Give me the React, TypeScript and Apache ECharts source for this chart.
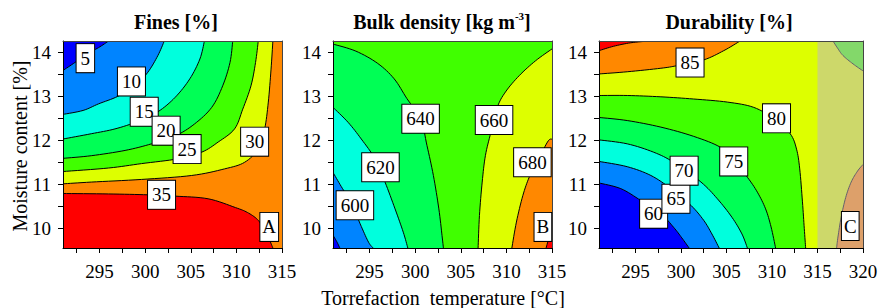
import React, { useEffect, useRef } from "react";
import * as echarts from "echarts";

const F = "Liberation Serif";
const X_MIN = 291;
const Y_MIN = 9.55;
const Y_MAX = 14.26;

const xTickVals = [292.5, 295, 297.5, 300, 302.5, 305, 307.5, 310, 312.5, 315, 317.5, 320];
const xLabelVals = [295, 300, 305, 310, 315, 320];
const yTickVals = [10, 10.5, 11, 11.5, 12, 12.5, 13, 13.5, 14];
const yLabelVals = [10, 11, 12, 13, 14];

// ---- Fines [%] contour lines (temperature, moisture)
const fines5 = [[291, 13.59], [292.3, 13.77], [293.5, 13.95], [294.9, 14.11], [296.0, 14.26]];
const fines10 = [[291, 12.59], [293.2, 12.68], [294.9, 12.83], [297, 13.0], [298.9, 13.24], [300.3, 13.55], [301.4, 13.93], [302.1, 14.26]];
const fines15 = [[291, 12.03], [294.1, 12.15], [296.7, 12.26], [299.2, 12.43], [301.4, 12.65], [303.3, 12.98], [304.9, 13.4], [306, 13.85], [306.5, 14.26]];
const fines20 = [[291, 11.59], [294.1, 11.65], [297.8, 11.77], [300.7, 11.92], [303.3, 12.1], [305.4, 12.37], [307.3, 12.75], [308.5, 13.24], [309.3, 13.77], [309.6, 14.26]];
const fines25 = [[291, 11.29], [296, 11.37], [299.6, 11.47], [303.6, 11.58], [306.2, 11.73], [308, 11.96], [309.8, 12.26], [310.7, 12.71], [311.6, 13.24], [312.1, 13.77], [312.4, 14.26]];
const fines30 = [[291, 11.01], [294.1, 11.05], [299.6, 11.11], [305.1, 11.2], [308.7, 11.35], [310.9, 11.5], [312.4, 11.81], [313.1, 12.26], [313.5, 12.87], [313.8, 13.62], [314.0, 14.26]];
const fines35 = [[291, 10.79], [296, 10.78], [300.3, 10.76], [303.3, 10.73], [306.9, 10.67], [309.9, 10.47], [311.2, 10.36], [312.3, 10.2], [313.1, 9.97], [313.6, 9.75], [314.0, 9.55]];
const fineLabels: [number, number, string][] = [
  [293.45, 13.87, "5"], [298.5, 13.34, "10"], [299.9, 12.65, "15"], [302.3, 12.22, "20"],
  [304.6, 11.8, "25"], [312.0, 11.97, "30"], [301.8, 10.76, "35"],
];

// ---- Bulk density [kg m-3]
const bulk580 = [[291, 9.84], [291.4, 9.7], [291.75, 9.55]];
const bulk600 = [[291, 11.27], [291.9, 10.95], [293, 10.57], [294.1, 10.04], [294.9, 9.68], [295.4, 9.55]];
const bulk620 = [[291, 12.75], [292.65, 12.41], [294.1, 12.03], [295.6, 11.58], [296.7, 11.05], [297.8, 10.44], [298.7, 9.91], [299.2, 9.55]];
const bulk640 = [[291, 14.19], [293.5, 14.03], [295.9, 13.75], [297.7, 13.4], [299.1, 12.95], [300.6, 12.49], [301.3, 11.88], [302, 11.2], [302.6, 10.44], [302.95, 9.83], [303.1, 9.55]];
const bulk660 = [[315, 14.08], [313.2, 13.81], [311.4, 13.47], [309.9, 13.1], [309, 12.75], [308.3, 12.18], [307.7, 11.65], [307.35, 11.05], [307.05, 10.29], [306.9, 9.55]];
const bulk680 = [[315, 12.03], [314.5, 11.96], [313.2, 11.43], [312.5, 11.16], [311.8, 10.74], [311.1, 10.14], [310.6, 9.55]];
const bulk700 = [[315, 9.95], [314.7, 9.8], [314.35, 9.55]];
const bulkLabels: [number, number, string][] = [
  [293.4, 10.52, "600"], [296.2, 11.39, "620"], [300.6, 12.49, "640"], [308.65, 12.46, "660"], [312.85, 11.5, "680"],
];

// ---- Durability [%]
const dur90 = [[291, 14.04], [292.6, 14.14], [294.5, 14.22], [296.5, 14.26]];
const dur85 = [[291, 13.51], [294.1, 13.56], [297.8, 13.64], [299.6, 13.7], [302.5, 13.83], [304.7, 14.04], [306.5, 14.26]];
const dur80 = [[291, 13.02], [294.1, 13.02], [297.8, 12.99], [301.4, 12.94], [305.1, 12.87], [308, 12.75], [310.2, 12.49], [312, 12.15], [312.7, 11.8], [313.05, 11.35], [313.35, 10.6], [313.55, 9.99], [313.7, 9.55]];
const dur75 = [[291, 12.52], [294.1, 12.45], [297.8, 12.3], [301.4, 12.09], [304.35, 11.84], [305.8, 11.54], [307.3, 11.16], [308.4, 10.82], [309.3, 10.44], [309.9, 10.03], [310.4, 9.55]];
const dur70 = [[291, 12.01], [294.1, 11.92], [297, 11.73], [299.2, 11.5], [302.2, 11.05], [304, 10.67], [305.6, 10.25], [306.7, 9.87], [307.3, 9.55]];
const dur65 = [[291, 11.52], [294.1, 11.4], [296.7, 11.2], [298.9, 10.9], [301.1, 10.52], [302.5, 10.18], [303.4, 9.87], [304.2, 9.55]];
const dur60 = [[291, 11.03], [293.4, 10.9], [295.6, 10.63], [297.8, 10.33], [299.2, 10.02], [300.1, 9.78], [300.9, 9.55]];
const dur80b = [[316.7, 14.26], [317.2, 14.1], [317.8, 13.93], [318.9, 13.74], [320, 13.58]];
const dur85b = [[320, 11.45], [319.4, 11.3], [318.7, 11.05], [318.1, 10.7], [317.6, 10.25], [317.25, 9.8], [317.1, 9.55]];
const durLabels: [number, number, string][] = [
  [297.0, 10.33, "60"], [299.45, 10.67, "65"], [300.35, 11.31, "70"], [305.8, 11.52, "75"], [310.5, 12.5, "80"], [301.0, 13.77, "85"],
];
const extrapolatedFrom = 315;

const panelTags: [number, number, string][] = [[313.6, 10.03, "A"], [314.0, 10.03, "B"], [318.6, 10.05, "C"]];
const panelMax = [315, 315, 320];
const panelTitles = ["Fines [%]", "{b|Bulk density [kg m}{s|-3}{b|]}", "Durability [%]"];

const C = {
  blue: "#0000ff", dodger: "#0084ff", cyan: "#00ffdd", green1: "#00ff55", green2: "#40ff00",
  yellow: "#ddff00", orange: "#ff8800", red: "#ff0000", shade: "rgba(191,181,200,0.53)",
};

type Layer = { line: number[][]; corner?: number[][]; fill?: string; stroke?: string; smooth?: boolean };

function rect(x0: number, x1: number): number[][] {
  return [[x0, Y_MIN], [x1, Y_MIN], [x1, Y_MAX], [x0, Y_MAX]];
}
const fillL = (line: number[][], corner: number[], fill: string): Layer => ({ line, corner: [corner], fill, smooth: true });
const lineL = (line: number[][]): Layer => ({ line, stroke: "#000", smooth: true });

const TL = [X_MIN, Y_MAX];
const BL = [X_MIN, Y_MIN];

const layers1: Layer[] = [
  { line: rect(X_MIN, 315), fill: C.orange },
  fillL(fines30, TL, C.yellow),
  fillL(fines25, TL, C.green2),
  fillL(fines20, TL, C.green1),
  fillL(fines15, TL, C.cyan),
  fillL(fines10, TL, C.dodger),
  fillL(fines5, TL, C.blue),
  fillL(fines35, BL, C.red),
  ...[fines5, fines10, fines15, fines20, fines25, fines30, fines35].map(lineL),
];
const layers2: Layer[] = [
  { line: rect(X_MIN, 315), fill: C.green2 },
  fillL(bulk640, BL, C.green1),
  fillL(bulk620, BL, C.cyan),
  fillL(bulk600, BL, C.dodger),
  fillL(bulk580, BL, C.blue),
  fillL(bulk660, [315, Y_MIN], C.yellow),
  fillL(bulk680, [315, Y_MIN], C.orange),
  fillL(bulk700, [315, Y_MIN], C.red),
  ...[bulk580, bulk600, bulk620, bulk640, bulk660, bulk680, bulk700].map(lineL),
];
const layers3: Layer[] = [
  { line: rect(X_MIN, 320), fill: C.yellow },
  fillL(dur85, TL, C.orange),
  fillL(dur90, TL, C.red),
  fillL(dur80, BL, C.green2),
  fillL(dur75, BL, C.green1),
  fillL(dur70, BL, C.cyan),
  fillL(dur65, BL, C.dodger),
  fillL(dur60, BL, C.blue),
  fillL(dur80b, [320, Y_MAX], C.green2),
  fillL(dur85b, [320, Y_MIN], C.orange),
  ...[dur90, dur85, dur80, dur75, dur70, dur65, dur60, dur80b, dur85b].map(lineL),
  { line: rect(extrapolatedFrom, 320), fill: C.shade },
];
const allLayers = [layers1, layers2, layers3];
const allLabels = [fineLabels, bulkLabels, durLabels];

const grids = [
  { left: 63, top: 41, width: 219, height: 207 },
  { left: 333, top: 41, width: 219, height: 207 },
  { left: 599, top: 41, width: 264, height: 207 },
];
const titlePos = [176, 442, 729];

// Catmull-Rom smoothing of the drawn path (pixel space), like a line series' `smooth`
function smoothPath(p: number[][], steps = 8): number[][] {
  if (p.length < 3) return p;
  const out: number[][] = [];
  for (let i = 0; i < p.length - 1; i++) {
    const p0 = p[i - 1] || p[i];
    const p1 = p[i];
    const p2 = p[i + 1];
    const p3 = p[i + 2] || p[i + 1];
    for (let s = 0; s < steps; s++) {
      const t = s / steps;
      const t2 = t * t;
      const t3 = t2 * t;
      const f = (a: number, b: number, c: number, d: number) =>
        0.5 * (2 * b + (-a + c) * t + (2 * a - 5 * b + 4 * c - d) * t2 + (-a + 3 * b - 3 * c + d) * t3);
      out.push([f(p0[0], p1[0], p2[0], p3[0]), f(p0[1], p1[1], p2[1], p3[1])]);
    }
  }
  out.push(p[p.length - 1]);
  return out;
}

export default function App() {
  const ref = useRef<HTMLDivElement>(null);
  useEffect(() => {
    if (!ref.current) return;
    const chart = echarts.init(ref.current, null, { renderer: "svg" });
    const xAxis: any[] = [];
    const yAxis: any[] = [];
    const series: any[] = [];
    const labelStyle = {
      show: true, position: "inside", formatter: "{b}", color: "#000", fontSize: 19, fontFamily: F,
      backgroundColor: "#fff", borderColor: "#000", borderWidth: 1, lineHeight: 19, opacity: 1,
    };
    panelMax.forEach((xMax, i) => {
      xAxis.push({
        gridIndex: i, type: "value", min: X_MIN, max: xMax, z: 10,
        axisLine: { show: true, onZero: false, lineStyle: { color: "#000", width: 1 } },
        axisTick: { show: true, length: 5, customValues: xTickVals.filter((v) => v <= xMax), lineStyle: { color: "#000" } },
        axisLabel: { show: true, customValues: xLabelVals.filter((v) => v <= xMax), fontSize: 19, fontFamily: F, color: "#000", margin: 14 },
        splitLine: { show: false },
      });
      xAxis.push({
        gridIndex: i, type: "value", min: X_MIN, max: xMax, position: "top", z: 10,
        axisLine: { show: true, onZero: false, lineStyle: { color: "#444", width: 1 } },
        axisTick: { show: false }, axisLabel: { show: false }, splitLine: { show: false },
      });
      yAxis.push({
        gridIndex: i, type: "value", min: Y_MIN, max: Y_MAX, z: 10,
        axisLine: { show: true, onZero: false, lineStyle: { color: "#000", width: 1 } },
        axisTick: { show: true, length: 5, customValues: yTickVals, lineStyle: { color: "#000" } },
        axisLabel: { show: true, customValues: yLabelVals, fontSize: 19, fontFamily: F, color: "#000", margin: 12 },
        splitLine: { show: false },
      });
      yAxis.push({
        gridIndex: i, type: "value", min: Y_MIN, max: Y_MAX, position: "right", z: 10,
        axisLine: { show: true, onZero: false, lineStyle: { color: "#444", width: 1 } },
        axisTick: { show: false }, axisLabel: { show: false }, splitLine: { show: false },
      });
      const layers = allLayers[i];
      series.push({
        type: "custom", coordinateSystem: "cartesian2d", xAxisIndex: 2 * i, yAxisIndex: 2 * i, clip: true, z: 2,
        silent: true,
        data: layers.map((l) => l.line[0]),
        renderItem: (params: any, api: any) => {
          const layer = layers[params.dataIndex];
          let points = layer.line.map((p) => api.coord(p));
          if (layer.smooth) points = smoothPath(points);
          if (layer.fill) {
            if (layer.corner) points = points.concat(layer.corner.map((p) => api.coord(p)));
            return { type: "polygon", shape: { points }, style: { fill: layer.fill, stroke: null } };
          }
          return { type: "polyline", shape: { points }, style: { fill: null, stroke: layer.stroke, lineWidth: 1 } };
        },
      });
      series.push({
        type: "scatter", xAxisIndex: 2 * i, yAxisIndex: 2 * i, z: 20, symbolSize: 1, silent: true,
        itemStyle: { color: "rgba(0,0,0,0)" },
        label: { ...labelStyle, padding: [5, 4, 4, 4] },
        data: allLabels[i].map(([t, m, s]) => ({ value: [t, m], name: s })),
      });
      series.push({
        type: "scatter", xAxisIndex: 2 * i, yAxisIndex: 2 * i, z: 20, symbolSize: 1, silent: true,
        itemStyle: { color: "rgba(0,0,0,0)" },
        label: { ...labelStyle, padding: [5, 2, 4, 2] },
        data: [panelTags[i]].map(([t, m, s]) => ({ value: [t, m], name: s })),
      });
    });

    const graphic: any[] = panelTitles.map((t, i) => ({
      type: "text", x: titlePos[i], y: 22, z: 30,
      style: {
        text: t, fill: "#000", fontSize: 20, fontWeight: "bold", fontFamily: F, align: "center", verticalAlign: "middle",
        rich: {
          b: { fontSize: 20, fontWeight: "bold", fontFamily: F, fill: "#000", lineHeight: 24 },
          s: { fontSize: 11, fontWeight: "bold", fontFamily: F, fill: "#000", lineHeight: 12, verticalAlign: "top" },
        },
      },
    }));
    graphic.push({
      type: "text", x: 443, y: 298, z: 30,
      style: { text: "Torrefaction  temperature [°C]", fill: "#000", fontSize: 20, fontFamily: F, align: "center", verticalAlign: "middle" },
    });
    graphic.push({
      type: "text", x: 20, y: 146, rotation: Math.PI / 2, z: 30,
      style: { text: "Moisture content [%]", fill: "#000", fontSize: 20, fontFamily: F, align: "center", verticalAlign: "middle" },
    });

    chart.setOption({
      animation: false,
      backgroundColor: "#fff",
      textStyle: { fontFamily: F },
      grid: grids.map((g) => ({ ...g, containLabel: false, outerBoundsMode: "none" })),
      xAxis,
      yAxis,
      series,
      graphic,
    });
    return () => chart.dispose();
  }, []);
  return <div ref={ref} style={{ position: "absolute", left: 0, top: 0, width: 881, height: 308 }} />;
}
